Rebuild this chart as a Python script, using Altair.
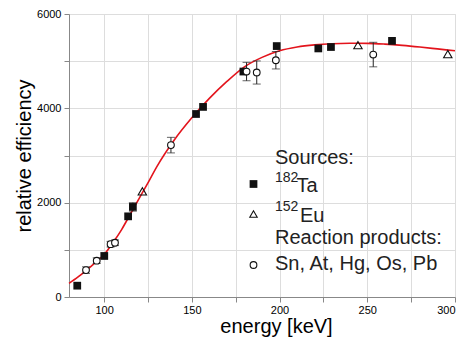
import altair as alt
import pandas as pd

# 182Ta source
ta_energy = [84.7, 100.1, 113.7, 116.4, 152.4, 156.4, 179.4, 198.4, 222.1, 229.3, 264.1]
ta_eff = [240, 870, 1710, 1910, 3880, 4030, 4780, 5320, 5270, 5300, 5430]
ta_err = [0, 0, 0, 90, 0, 0, 0, 0, 0, 0, 0]

# 152Eu source
eu_energy = [121.8, 244.7, 295.9]
eu_eff = [2240, 5340, 5150]

# Reaction products
rp_energy = [89.7, 95.8, 103.7, 106.2, 138.1, 181.2, 187.0, 197.9, 253.4]
rp_eff = [570, 770, 1120, 1150, 3220, 4780, 4760, 5020, 5140]
rp_err = [70, 60, 60, 60, 165, 195, 245, 185, 260]

# fitted efficiency curve
fit_energy = [80, 85, 90, 95, 100, 105, 110, 115, 120, 125, 130, 140, 150, 160, 170,
              180, 190, 200, 210, 220, 230, 240, 250, 260, 270, 280, 290, 300]
fit_eff = [290, 420, 570, 730, 900, 1150, 1430, 1760, 2090, 2420, 2760, 3330, 3800,
           4210, 4570, 4880, 5080, 5220, 5300, 5345, 5370, 5380, 5378, 5362, 5335,
           5300, 5260, 5220]

FONT = "Liberation Sans"

ta = pd.DataFrame({"e": ta_energy, "v": ta_eff, "err": ta_err})
ta["lo"] = ta["v"] - ta["err"]
ta["hi"] = ta["v"] + ta["err"]
ta_eb = ta[ta["err"] > 0]
eu = pd.DataFrame({"e": eu_energy, "v": eu_eff})
rp = pd.DataFrame({"e": rp_energy, "v": rp_eff, "err": rp_err})
rp["lo"] = rp["v"] - rp["err"]
rp["hi"] = rp["v"] + rp["err"]
fit = pd.DataFrame({"e": fit_energy, "v": fit_eff})

xs = alt.Scale(domain=[80, 300], nice=False, zero=False)
ys = alt.Scale(domain=[0, 6000], nice=False)

xaxis = alt.Axis(
    values=[100, 125, 150, 175, 200, 225, 250, 275, 300],
    labelExpr="datum.value % 50 == 0 ? datum.label : ''",
    title="energy [keV]", titleX=207, titleY=35, titleBaseline="alphabetic",
    titleAlign="center", titleFontSize=20, titleFontWeight="normal",
    labelFontSize=11, tickSize=5, labelPadding=2, format="d",
)
yaxis = alt.Axis(
    values=[0, 1000, 2000, 3000, 4000, 5000, 6000],
    labelExpr="datum.value % 2000 == 0 ? datum.label : ''",
    title="relative efficiency", titleX=-39, titleY=141.5, titleAngle=-90,
    titleBaseline="alphabetic", titleAlign="center", titleFontSize=20,
    titleFontWeight="normal", labelFontSize=11, tickSize=5, labelPadding=3, format="d",
    labelFlush=False,
)

base_x = alt.X("e:Q", scale=xs, axis=xaxis)
base_y = alt.Y("v:Q", scale=ys, axis=yaxis)

curve = alt.Chart(fit).mark_line(color="#e3141c", strokeWidth=1.6, interpolate="monotone").encode(
    x=base_x, y=base_y)

rp_bar = alt.Chart(rp).mark_rule(color="#222", strokeWidth=1).encode(
    x="e:Q", y="lo:Q", y2="hi:Q")
rp_caplo = alt.Chart(rp).mark_tick(color="#222", orient="horizontal", size=8, thickness=1).encode(
    x="e:Q", y="lo:Q")
rp_caphi = alt.Chart(rp).mark_tick(color="#222", orient="horizontal", size=8, thickness=1).encode(
    x="e:Q", y="hi:Q")
ta_bar = alt.Chart(ta_eb).mark_rule(color="#222", strokeWidth=1).encode(
    x="e:Q", y="lo:Q", y2="hi:Q")
ta_caplo = alt.Chart(ta_eb).mark_tick(color="#222", orient="horizontal", size=8, thickness=1).encode(
    x="e:Q", y="lo:Q")
ta_caphi = alt.Chart(ta_eb).mark_tick(color="#222", orient="horizontal", size=8, thickness=1).encode(
    x="e:Q", y="hi:Q")

ta_pts = alt.Chart(ta).mark_point(shape="square", filled=True, color="#111", size=60, opacity=1).encode(
    x="e:Q", y="v:Q")
eu_pts = alt.Chart(eu).mark_point(shape="triangle-up", filled=False, color="#111", size=70,
                                  strokeWidth=1.1, opacity=1).encode(x="e:Q", y="v:Q")
rp_pts = alt.Chart(rp).mark_point(shape="circle", filled=True, fill="white", stroke="#111",
                                  size=45, strokeWidth=1.1, opacity=1).encode(x="e:Q", y="v:Q")

one = pd.DataFrame({"k": [0]})


def label(txt, x, y, size):
    return alt.Chart(one).mark_text(text=txt, font=FONT, fontSize=size, align="left",
                                    baseline="alphabetic", color="#222").encode(
        x=alt.value(x), y=alt.value(y))


leg_sq = alt.Chart(one).mark_point(shape="square", filled=True, color="#111", size=60, opacity=1).encode(
    x=alt.value(184.5), y=alt.value(170))
leg_tri = alt.Chart(one).mark_point(shape="triangle-up", filled=False, color="#111", size=55,
                                    strokeWidth=1.1, opacity=1).encode(x=alt.value(184.5), y=alt.value(200))
leg_circ = alt.Chart(one).mark_point(shape="circle", filled=True, fill="white", stroke="#111", size=45,
                                     strokeWidth=1.1, opacity=1).encode(x=alt.value(184.5), y=alt.value(251))

texts = [
    label("Sources:", 206, 149.5, 20),
    label("182", 206, 167.5, 14),
    label("Ta", 227.5, 177.5, 20),
    label("152", 206, 197, 14),
    label("Eu", 231, 207.5, 20),
    label("Reaction products:", 206, 229.5, 20),
    label("Sn, At, Hg, Os, Pb", 206, 256, 20),
]

chart = alt.layer(
    curve, rp_bar, rp_caplo, rp_caphi, ta_bar, ta_caplo, ta_caphi,
    ta_pts, eu_pts, rp_pts, leg_sq, leg_tri, leg_circ, *texts
).properties(
    width=386, height=283,
    autosize=alt.AutoSizeParams(type="none"),
    padding={"left": 61, "top": 6, "right": 1, "bottom": 40},
).configure_view(
    stroke="#666", strokeWidth=1
).configure_axis(
    grid=False, domainColor="#666", tickColor="#666", labelColor="#222", titleColor="#222",
    labelFont=FONT, titleFont=FONT, domainWidth=1, tickWidth=1,
).configure(background="white")

chart.save("out.html", embed_options={"renderer": "svg", "actions": False})
